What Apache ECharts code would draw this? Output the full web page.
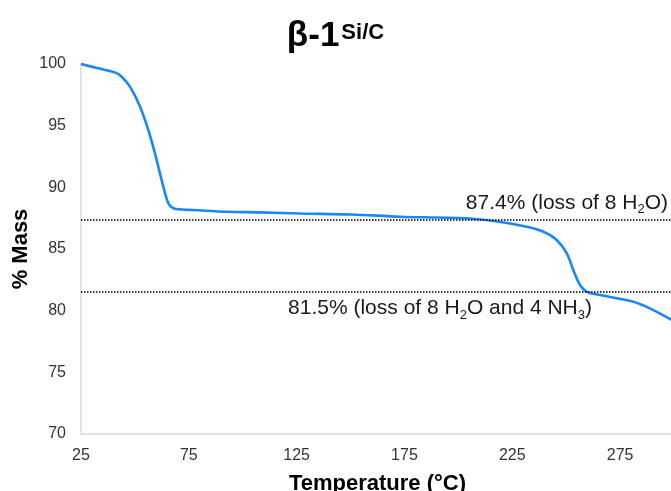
<!DOCTYPE html>
<html>
<head>
<meta charset="utf-8">
<script src="https://cdn.jsdelivr.net/npm/echarts@6/dist/echarts.min.js"></script>
<style>
  html, body { margin: 0; padding: 0; background: #fff; }
  #chart { width: 671px; height: 491px; }
</style>
</head>
<body>
<div id="chart"></div>
<script>
// Thermogravimetric trace: temperature (°C) vs remaining mass (%)
const temperature = [25, 33, 41, 44, 47.7, 52.4, 56.2, 59.3, 62.4, 65.5, 67.8, 72, 77.1, 92.6, 108, 127, 150, 173, 190, 204, 219, 231.7, 239.4, 245.6, 250.3, 253.3, 256.4, 259.6, 265.7, 281.2, 290.4, 299];
const massPercent = [100, 99.65, 99.3, 98.95, 98.16, 96.54, 94.65, 92.76, 90.59, 88.7, 88.3, 88.2, 88.16, 88.02, 87.97, 87.88, 87.8, 87.62, 87.55, 87.49, 87.21, 86.8, 86.4, 85.73, 84.65, 83.29, 82.08, 81.53, 81.27, 80.72, 80.05, 79.24];

// Plateau levels marked on the trace
const plateauLevels = [87.4, 81.5];
const plateauNotes = ['(loss of 8 H{sub|2}O)', '(loss of 8 H{sub|2}O and 4 NH{sub|3})'];

// Axis ranges
const xMin = 25, xMax = 300, xStep = 50;
const yMin = 70, yMax = 100, yStep = 5;

const FONT = 'Liberation Sans, Arial, sans-serif';

const subRich = {
  sub: { fontSize: 13, fontFamily: FONT, color: '#1a1a1a', verticalAlign: 'bottom', lineHeight: 13, padding: [0, 0, -3, 0] }
};

const chart = echarts.init(document.getElementById('chart'), null, { renderer: 'canvas' });

chart.setOption({
  animation: false,
  backgroundColor: '#ffffff',
  title: {
    text: '{a|β-1}{b|Si/C}',
    left: 'center',
    top: 14,
    textStyle: {
      rich: {
        a: { fontFamily: FONT, fontSize: 35, fontWeight: 'bold', color: '#000', verticalAlign: 'bottom' },
        b: { fontFamily: FONT, fontSize: 22, fontWeight: 'bold', color: '#000', verticalAlign: 'top', padding: [3, 0, 0, 2] }
      }
    }
  },
  // Vertical axis title
  graphic: [{
    type: 'text',
    x: 21,
    y: 249,
    rotation: Math.PI / 2,
    style: {
      text: '% Mass',
      fontFamily: FONT,
      fontSize: 22,
      fontWeight: 'bold',
      fill: '#000',
      align: 'center',
      verticalAlign: 'middle'
    }
  }],
  grid: { left: 81, right: -3, top: 64, bottom: 57, containLabel: false, outerBoundsMode: 'none' },
  xAxis: {
    type: 'value',
    min: xMin,
    max: xMax,
    interval: xStep,
    name: 'Temperature (°C)',
    nameLocation: 'middle',
    nameGap: 39,
    nameMoveOverlap: false,
    nameTextStyle: { fontFamily: FONT, fontSize: 22, fontWeight: 'bold', color: '#000' },
    axisLine: { show: true, lineStyle: { color: '#d9d9d9', width: 1.5 } },
    axisTick: { show: false },
    splitLine: { show: false },
    axisLabel: { fontFamily: FONT, fontSize: 16, color: '#333', margin: 14, showMaxLabel: false }
  },
  yAxis: {
    type: 'value',
    min: yMin,
    max: yMax,
    interval: yStep,
    axisLine: { show: true, lineStyle: { color: '#d9d9d9', width: 1.5 } },
    axisTick: { show: false },
    splitLine: { show: false },
    axisLabel: { fontFamily: FONT, fontSize: 16, color: '#333', margin: 15 }
  },
  series: [{
    type: 'line',
    data: temperature.map((t, i) => [t, massPercent[i]]),
    showSymbol: false,
    smooth: 0.35,
    clip: true,
    lineStyle: { color: '#1a87f7', width: 2.6 },
    markLine: {
      silent: true,
      symbol: 'none',
      animation: false,
      lineStyle: { color: '#000', width: 1.5, type: [1.5, 1.5] },
      data: [
        {
          yAxis: plateauLevels[0],
          label: {
            show: true,
            position: 'insideEndTop',
            distance: 6,
            offset: [0, 0],
            formatter: plateauLevels[0] + '% ' + plateauNotes[0],
            fontFamily: FONT, fontSize: 21, color: '#1a1a1a',
            rich: subRich
          }
        },
        {
          yAxis: plateauLevels[1],
          label: {
            show: true,
            position: 'insideEndBottom',
            distance: 6,
            offset: [-76, 0],
            formatter: plateauLevels[1] + '% ' + plateauNotes[1],
            fontFamily: FONT, fontSize: 21, color: '#1a1a1a',
            rich: subRich
          }
        }
      ]
    }
  }]
});
</script>
</body>
</html>
